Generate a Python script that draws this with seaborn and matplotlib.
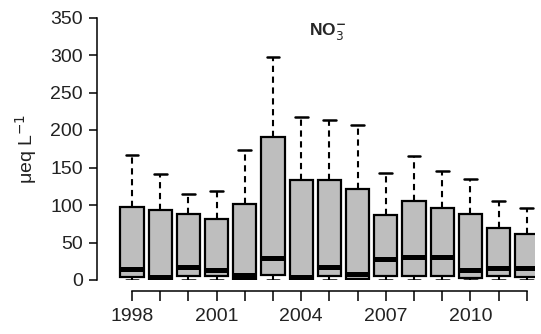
import numpy as np
import pandas as pd
import matplotlib
matplotlib.use("Agg")
import matplotlib.pyplot as plt
import seaborn as sns

years = list(range(1998, 2013))
whisker_low = [0, 0, 0, 0, 0, 0, 0, 0, 0, 0, 0, 0, 0, 0, 0]
q1 = [4, 1, 6, 5, 1, 7, 1, 5, 2, 6, 6, 6, 3, 5, 4]
median = [15, 4, 18, 14, 7, 29, 4, 18, 8, 28, 31, 31, 14, 16, 16]
q3 = [97, 93, 88, 81, 101, 191, 134, 134, 121, 87, 105, 96, 88, 69, 61]
whisker_high = [167, 141, 115, 119, 173, 298, 218, 213, 207, 143, 165, 146, 135, 105, 96]
tick_labels = ["1998", "", "", "2001", "", "", "2004", "", "", "2007", "", "", "2010", "", ""]

rows = []
for i, y in enumerate(years):
    for v in (whisker_low[i], q1[i], median[i], q3[i], whisker_high[i]):
        rows.append({"year": str(y), "value": v})
df = pd.DataFrame(rows)

sns.set_style("white")
plt.rcParams["font.family"] = ["Liberation Sans", "DejaVu Sans"]

W, H = 541, 334
fig = plt.figure(figsize=(W / 100, H / 100), dpi=100)
left_px, right_px, top_px, bottom_px = 97, 535, 17.5, 280
ax = fig.add_axes([left_px / W, 1 - bottom_px / H, (right_px - left_px) / W, (bottom_px - top_px) / H])

sns.boxplot(
    data=df, x="year", y="value", ax=ax,
    order=[str(y) for y in years],
    color="#bebebe", width=0.82, whis=(0, 100), linecolor="black", linewidth=1.6,
    boxprops=dict(facecolor="#bebebe", edgecolor="black", linewidth=1.6),
    medianprops=dict(color="black", linewidth=3.6),
    whiskerprops=dict(color="black", linewidth=1.5, linestyle=(0, (3, 2.2))),
    capprops=dict(color="black", linewidth=1.8),
    capwidths=0.46, showfliers=False,
)

step = 28.2
ax.set_xlim(-(132 - left_px) / step, (right_px - 132) / step)
ax.set_ylim(0, 350)

for s in ("top", "right"):
    ax.spines[s].set_visible(False)
ax.spines["left"].set_bounds(0, 350)
ax.spines["bottom"].set_position(("outward", 8.0))
ax.spines["bottom"].set_bounds(0, 14)
for s in ("left", "bottom"):
    ax.spines[s].set_linewidth(1.1)
    ax.spines[s].set_color("black")

ax.set_yticks(np.arange(0, 351, 50))
ax.set_xticks(range(len(years)))
ax.set_xticklabels(tick_labels)
ax.tick_params(axis="both", direction="out", length=6, width=1.1, color="black",
               labelsize=14, labelcolor="#222222", left=True, bottom=True, pad=4)
ax.tick_params(axis="x", length=7, pad=5)

ax.set_xlabel("")
ax.set_ylabel(r"μeq L$^{-1}$", fontsize=14, color="#222222", labelpad=8)

ax.text(6.95, 318, r"NO$_3^{\mathbf{-}}$", fontsize=12.5, fontweight="bold", ha="center", va="bottom")

fig.savefig("out.png", dpi=100)
